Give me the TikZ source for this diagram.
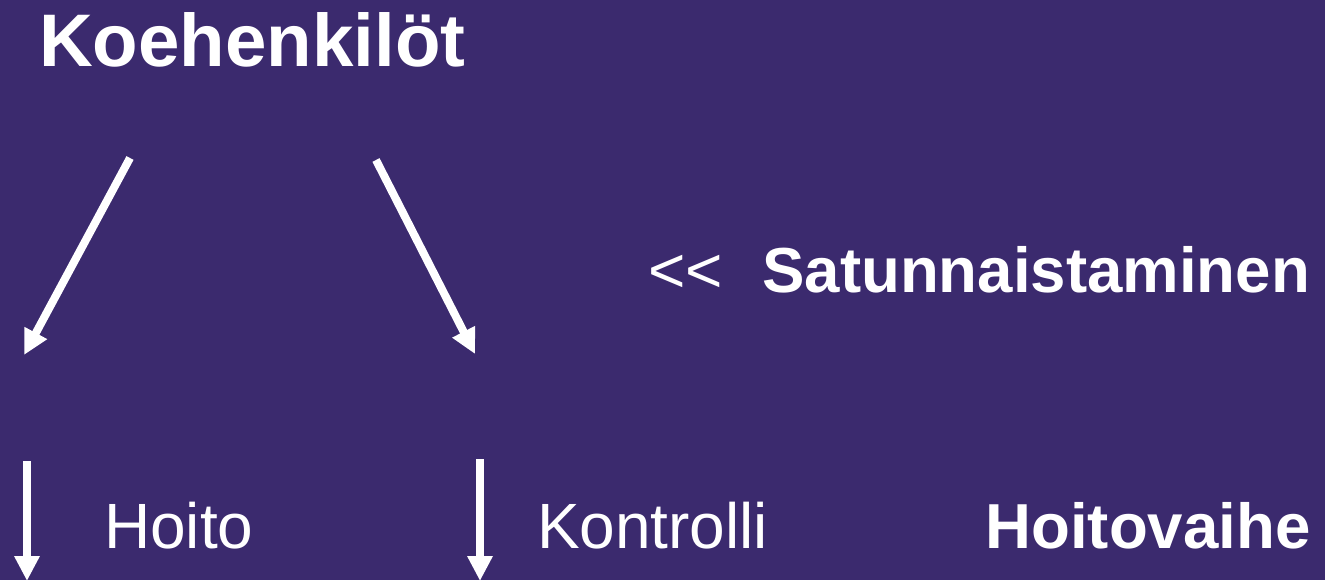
\documentclass[tikz,border=0pt]{standalone}
\usepackage{fontspec}
\setmainfont{Liberation Sans}
\usetikzlibrary{arrows.meta}
\definecolor{bgpurple}{HTML}{3B2A6E}
\begin{document}
\begin{tikzpicture}[x=1pt,y=-1pt,
  lbl/.style={text=white,inner sep=0pt,outer sep=0pt},
  big/.style={lbl,font=\fontsize{74.5}{80}\selectfont\bfseries},
  bold/.style={lbl,font=\fontsize{63.6}{70}\selectfont\bfseries},
  plain/.style={lbl,font=\fontsize{64}{70}\selectfont},
  arr/.style={white,line width=8pt,-{Triangle[length=25pt,width=24pt]}}]
\fill[bgpurple] (0,0) rectangle (1325,580);
\useasboundingbox (0,0) rectangle (1325,580);
\node[big,anchor=base west] (title) at (39,67) {Koehenkilöt};
\node[plain,anchor=base west] (lt) at (648,292) {<{}<};
\node[bold,anchor=base east] (sat) at (1310,292) {Satunnaistaminen};
\node[plain,anchor=base west] (hoito) at (104,548) {Hoito};
\node[plain,anchor=base west] (kontrolli) at (537,548) {Kontrolli};
\node[bold,anchor=base east] (hv) at (1310.5,548) {Hoitovaihe};
\coordinate (a1s) at (130,158);
\coordinate (a1e) at (24,355);
\coordinate (a2s) at (376,160);
\coordinate (a2e) at (475,354);
\coordinate (v1s) at (27,461);
\coordinate (v1e) at (27,581);
\coordinate (v2s) at (480,459);
\coordinate (v2e) at (480,581);
\draw[arr] (a1s) -- (a1e);
\draw[arr] (a2s) -- (a2e);
\draw[arr] (v1s) -- (v1e);
\draw[arr] (v2s) -- (v2e);
\end{tikzpicture}
\end{document}
